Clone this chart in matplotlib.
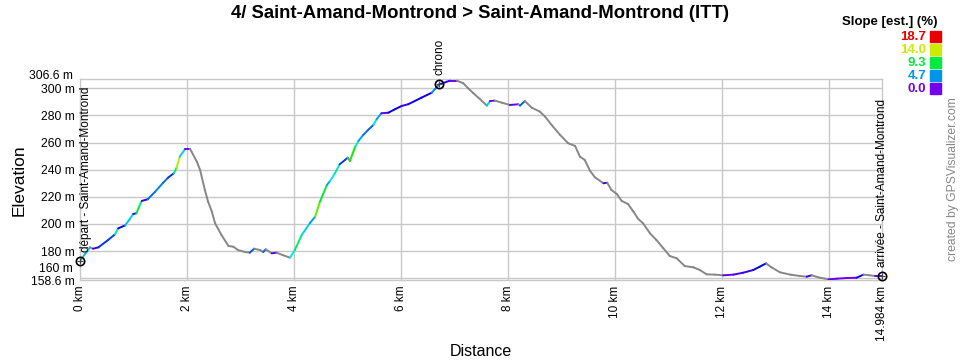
import matplotlib
matplotlib.use('Agg')
import matplotlib.pyplot as plt
import numpy as np
from matplotlib.collections import LineCollection
from matplotlib.colors import hsv_to_rgb
from matplotlib.transforms import offset_copy

plt.rcParams['font.family'] = ['Liberation Sans', 'DejaVu Sans']

# Profile (distance km, elevation m)
dist_km = [0.00, 0.18, 0.24, 0.34, 0.52, 0.65, 0.71, 0.84, 0.93, 0.99, 1.05, 1.10, 1.15, 1.26,
           1.40, 1.55, 1.64, 1.75, 1.80, 1.86, 1.96, 2.05, 2.08, 2.18, 2.24, 2.33, 2.39, 2.46,
           2.52, 2.64, 2.77, 2.86, 2.95, 3.08, 3.17, 3.25, 3.36, 3.42, 3.47, 3.58, 3.67, 3.79,
           3.92, 4.01, 4.14, 4.29, 4.39, 4.48, 4.61, 4.67, 4.76, 4.85, 4.95, 5.00, 5.04, 5.14,
           5.20, 5.29, 5.38, 5.48, 5.54, 5.63, 5.76, 5.88, 6.01, 6.13, 6.38, 6.57, 6.71, 6.91,
           7.04, 7.16, 7.25, 7.35, 7.47, 7.60, 7.66, 7.75, 7.88, 8.03, 8.19, 8.22, 8.31, 8.44,
           8.59, 8.69, 8.81, 8.97, 9.12, 9.25, 9.34, 9.43, 9.53, 9.62, 9.78, 9.85, 9.93, 10.03,
           10.12, 10.24, 10.34, 10.43, 10.52, 10.65, 10.77, 10.90, 11.02, 11.15, 11.30, 11.46,
           11.58, 11.71, 11.86, 12.02, 12.21, 12.39, 12.58, 12.70, 12.82, 12.92, 13.08, 13.27,
           13.45, 13.58, 13.67, 13.83, 13.99, 14.14, 14.33, 14.51, 14.64, 14.76, 14.85, 14.984]
elev_m = [173.0, 182.8, 181.8, 182.8, 188.2, 192.4, 196.8, 199.0, 203.9, 207.4, 207.9, 212.8,
          217.0, 218.2, 223.8, 230.4, 234.1, 237.4, 241.5, 249.6, 255.3, 255.3, 253.3, 245.9,
          239.8, 225.0, 216.4, 209.1, 200.5, 191.9, 183.8, 183.3, 180.8, 179.4, 178.9, 181.8,
          180.8, 179.4, 181.3, 178.4, 178.9, 177.0, 175.2, 180.8, 191.9, 200.5, 205.4, 216.4,
          228.7, 231.7, 237.4, 244.0, 247.2, 248.9, 246.4, 257.0, 261.2, 265.6, 269.3, 273.0,
          277.2, 281.6, 282.0, 284.5, 287.0, 288.2, 293.1, 296.7, 302.9, 305.6, 305.6, 303.7,
          300.0, 296.3, 292.1, 287.2, 290.6, 290.9, 289.4, 287.7, 288.2, 287.2, 290.6, 285.7,
          282.8, 279.1, 273.0, 265.6, 259.5, 257.5, 249.6, 247.2, 239.1, 234.4, 230.0, 230.4,
          225.0, 222.1, 217.0, 214.7, 209.1, 203.7, 200.5, 193.1, 188.2, 182.1, 176.4, 174.7,
          169.0, 168.1, 166.1, 162.9, 162.7, 162.2, 162.7, 164.1, 166.1, 168.5, 171.0, 168.1,
          164.4, 162.7, 161.7, 161.2, 162.2, 160.4, 159.2, 159.7, 160.2, 160.4, 162.7, 162.2,
          161.7, 161.7]

# Waypoints
wpt_names = ['départ - Saint-Amand-Montrond', 'chrono', 'arrivée - Saint-Amand-Montrond']
wpt_km = [0.0, 6.71, 14.984]
wpt_m = [173.0, 302.9, 161.7]

# Slope legend
slope_stops = [18.7, 14.0, 9.3, 4.7, 0.0]
slope_max = 18.7

y_ticks = [160, 180, 200, 220, 240, 260, 280, 300]
x_ticks = [0, 2, 4, 6, 8, 10, 12, 14]
x_min, x_max = 0.0, 14.984
y_min, y_max = 158.6, 306.6


def slope_color(s):
    # hue goes from purple (0 %) to red (max %)
    s = min(max(s, 0), slope_max)
    hue = 270.0 * (1 - s / slope_max) / 360.0
    return hsv_to_rgb([hue, 1.0, 0.92])


fig = plt.figure(figsize=(9.6, 3.6), dpi=100)
ax = fig.add_axes([0.0836, 0.2217, 0.835, 0.558])

x = np.array(dist_km)
y = np.array(elev_m)
slopes = np.diff(y) / (np.diff(x) * 1000) * 100
colors = [(0.53, 0.53, 0.53) if s < 0 else slope_color(s) for s in slopes]
segs = np.stack([np.column_stack([x[:-1], y[:-1]]), np.column_stack([x[1:], y[1:]])], axis=1)
ax.add_collection(LineCollection(segs, colors=colors, linewidths=1.4, capstyle='round', zorder=3))

ax.set_xlim(x_min, x_max)
ax.set_ylim(y_min, y_max)

# grid
grid_c = '#c8c8c8'
for v in x_ticks[1:]:
    ax.axvline(v, color=grid_c, lw=1, zorder=1)
for v in y_ticks:
    ax.axhline(v, color=grid_c, lw=1, zorder=1)
for sp in ax.spines.values():
    sp.set_color(grid_c)
    sp.set_linewidth(1)

ax.set_xticks(x_ticks + [x_max])
ax.set_xticklabels(['%d km' % v for v in x_ticks] + ['14.984 km'], rotation=90, fontsize=8.5)
ax.set_yticks([y_min] + y_ticks)
ax.set_yticklabels(['158.6 m'] + ['' if v == 160 else '%d m' % v for v in y_ticks], fontsize=8.7)
ax.tick_params(length=0, pad=4)
ylab_tr = ax.get_yaxis_transform()
ax.text(-0.005, 160, '160 m', transform=offset_copy(ylab_tr, fig=fig, x=-3, y=9, units='dots'),
        ha='right', va='center', fontsize=8.7)
ax.text(-0.005, y_max, '306.6 m', transform=offset_copy(ylab_tr, fig=fig, x=-3, y=3, units='dots'),
        ha='right', va='center', fontsize=8.7)

ax.set_xlabel('Distance', fontsize=11.5, labelpad=2)
ax.set_ylabel('Elevation', fontsize=12.5, labelpad=3)
fig.text(0.5, 0.962, '4/ Saint-Amand-Montrond > Saint-Amand-Montrond (ITT)', ha='center', va='center',
         fontsize=13.3, fontweight='bold')

# waypoints
for name, wx, wy in zip(wpt_names, wpt_km, wpt_m):
    ax.plot(wx, wy, 'o', ms=6, mfc='none', mec='black', mew=1.2, zorder=5, clip_on=False)
    ax.plot(wx, wy, '+', ms=4, color='#444444', mew=0.8, zorder=5, clip_on=False)
    dx = 6 if wx == 0 else 0
    ax.text(wx, wy, name, rotation=90, ha='center', va='bottom', fontsize=8.5, zorder=6,
            transform=offset_copy(ax.transData, fig=fig, x=dx, y=9, units='dots'))

# slope legend
fig.text(937 / 960, 1 - 22 / 360, 'Slope [est.] (%)', ha='right', va='center', fontsize=9.5, fontweight='bold')
for i, s in enumerate(slope_stops):
    yy = 1 - (36.5 + i * 13.1) / 360
    c = slope_color(s)
    fig.text(926 / 960, yy, '%.1f' % s, ha='right', va='center', fontsize=9.5, fontweight='bold', color=c)
    fig.patches.append(plt.Rectangle((930 / 960, yy - 5.5 / 360), 11 / 960, 11 / 360,
                                     transform=fig.transFigure, color=c, figure=fig))

fig.text(953 / 960, 1 - 179 / 360, 'created by GPSVisualizer.com', rotation=90, ha='center', va='center',
         fontsize=8.7, color='#888888')

fig.savefig('out.png', dpi=100)
